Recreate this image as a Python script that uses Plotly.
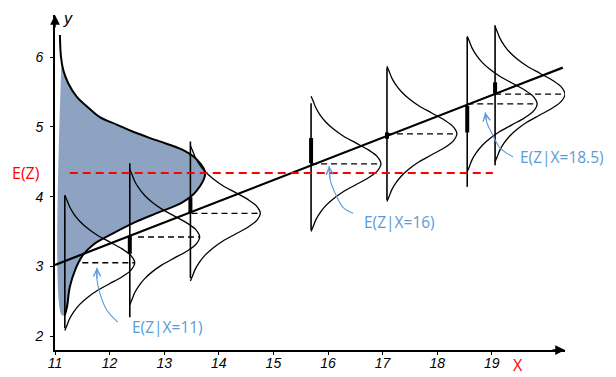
import plotly.graph_objects as go

# ---------------- data ----------------
x_ticks = [11, 12, 13, 14, 15, 16, 17, 18, 19]
y_ticks = [2, 3, 4, 5, 6]

# regression line E(Z|X)
reg_x = [11.0, 20.3]
reg_y = [3.02, 5.85]

# overall E(Z)
ez_value = 4.34
ez_x = [11.27, 19.02]

# big (marginal) density, filled
big_y = [6.32, 6.00, 5.82, 5.63, 5.43, 5.29, 5.14, 5.03, 4.93, 4.81, 4.67, 4.53,
         4.34, 4.09, 3.92, 3.78, 3.62, 3.45, 3.31, 3.16, 2.95, 2.70, 2.42, 2.30]
big_x = [11.09, 11.11, 11.15, 11.24, 11.40, 11.59, 11.82, 12.14, 12.43, 12.85, 13.34, 13.60,
         13.75, 13.60, 13.34, 12.92, 12.43, 12.01, 11.70, 11.51, 11.37, 11.27, 11.22, 11.18]
big_base = 11.12

# conditional densities
curve_base = [11.18, 12.37, 13.48, 15.69, 17.08, 18.55, 19.06]
curve_mean = [3.05, 3.42, 3.76, 4.47, 4.90, 5.33, 5.47]
curve_top = [4.02, 4.48, 4.79, 5.34, 5.85, 6.29, 6.46]
curve_bottom = [2.11, 2.27, 2.83, 3.52, 3.95, 4.14, 4.45]
curve_peak = 1.28
dash_start = [11.50, 12.52, 13.50, 15.69, 17.08, 18.55, 19.06]
bar_low = [None, 3.18, 3.77, 4.48, 4.83, 4.92, 5.48]
bar_high = [None, 3.44, 3.99, 4.84, 4.92, 5.30, 5.64]

# shape of a small density (offset from mean, relative width)
prof_dy = [-0.97, -0.9, -0.8, -0.7, -0.6, -0.5, -0.4, -0.3, -0.2, -0.1, 0.0,
           0.1, 0.2, 0.3, 0.4, 0.5, 0.6, 0.7, 0.8, 0.9, 0.97]
prof_w = [0.0, 0.03, 0.07, 0.13, 0.21, 0.32, 0.46, 0.64, 0.82, 0.95, 1.0,
          0.95, 0.82, 0.64, 0.46, 0.32, 0.21, 0.13, 0.07, 0.03, 0.0]

# callouts
labels = ["E(Z|X=11)", "E(Z|X=16)", "E(Z|X=18.5)"]
label_x = [12.37, 16.62, 19.48]
label_y = [2.13, 3.64, 4.57]
arrow_x = [[12.15, 11.95, 11.82, 11.77, 11.77],
           [16.46, 16.27, 16.13, 16.04, 16.02],
           [19.39, 19.15, 19.00, 18.91, 18.88]]
arrow_y = [[2.20, 2.37, 2.62, 2.80, 2.98],
           [3.76, 3.85, 4.05, 4.24, 4.44],
           [4.57, 4.70, 4.91, 5.06, 5.21]]

# ---------------- styles ----------------
BLUE = "#5B9BD5"
RED = "#FF0000"
FILL = "rgb(142,163,194)"
TXT = "Open Sans"

fig = go.Figure()

# filled marginal density
fill_x = big_x[1:] + [big_base, big_base]
fill_y = big_y[1:] + [big_y[-1], big_y[1]]
fig.add_trace(go.Scatter(x=fill_x, y=fill_y, mode="lines", fill="toself",
                         fillcolor=FILL, line=dict(width=0, shape="spline"),
                         hoverinfo="skip"))

# conditional densities
for i in range(len(curve_base)):
    b, m = curve_base[i], curve_mean[i]
    fig.add_trace(go.Scatter(x=[b, b], y=[curve_bottom[i], curve_top[i]], mode="lines",
                             line=dict(color="black", width=1.6)))
    fig.add_trace(go.Scatter(x=[b + curve_peak * w for w in prof_w],
                             y=[m + d for d in prof_dy], mode="lines",
                             line=dict(color="black", width=1.3, shape="spline")))
    fig.add_trace(go.Scatter(x=[dash_start[i], b + curve_peak], y=[m, m], mode="lines",
                             line=dict(color="black", width=1.4, dash="6px,4px")))
    if bar_low[i] is not None:
        fig.add_trace(go.Scatter(x=[b, b], y=[bar_low[i], bar_high[i]], mode="lines",
                                 line=dict(color="black", width=4)))

# outline of marginal density
fig.add_trace(go.Scatter(x=big_x, y=big_y, mode="lines",
                         line=dict(color="black", width=2, shape="spline")))

# regression line
fig.add_trace(go.Scatter(x=reg_x, y=reg_y, mode="lines", line=dict(color="black", width=2.2)))

# E(Z) line
fig.add_trace(go.Scatter(x=ez_x, y=[ez_value, ez_value], mode="lines",
                         line=dict(color=RED, width=2, dash="8px,5px")))

# blue callout arrows
for i in range(len(labels)):
    fig.add_trace(go.Scatter(x=arrow_x[i], y=arrow_y[i], mode="lines",
                             line=dict(color=BLUE, width=1.1, shape="spline")))
    fig.add_annotation(x=arrow_x[i][-1], y=arrow_y[i][-1], ax=arrow_x[i][-2], ay=arrow_y[i][-2],
                       xref="x", yref="y", axref="x", ayref="y", text="", showarrow=True,
                       arrowhead=5, arrowsize=1.3, arrowwidth=1.1, arrowcolor=BLUE, standoff=0)
    fig.add_annotation(x=label_x[i], y=label_y[i], text=labels[i], showarrow=False,
                       xanchor="left", yanchor="middle",
                       font=dict(family=TXT, size=15.5, color=BLUE))

# text labels
fig.add_annotation(xref="paper", yref="y", x=-0.057, y=ez_value, text="E(Z)", showarrow=False,
                   xanchor="center", yanchor="middle",
                   font=dict(family=TXT, size=16, color=RED))
fig.add_annotation(xref="paper", yref="paper", x=0.908, y=-0.045, text="X", showarrow=False,
                   xanchor="center", yanchor="middle",
                   font=dict(family=TXT, size=16, color=RED))
fig.add_annotation(x=11.24, y=6.56, text="y", showarrow=False,
                   xanchor="center", yanchor="middle",
                   font=dict(family="Liberation Sans", size=16, color="black", style="italic"))

# axis arrowheads
fig.add_annotation(xref="paper", yref="paper", x=1, y=0, ax=-14, ay=0, text="", showarrow=True,
                   arrowhead=2, arrowsize=1.3, arrowwidth=1.5, arrowcolor="black", standoff=0)
fig.add_annotation(xref="paper", yref="paper", x=0, y=1, ax=0, ay=14, text="", showarrow=True,
                   arrowhead=2, arrowsize=1.3, arrowwidth=1.5, arrowcolor="black", standoff=0)

# the page body adds an 8px offset, so the figure is 8px smaller and margins shifted
tickfont = dict(family="Liberation Sans", size=14, color="black", style="italic")
fig.update_layout(
    width=608, height=369,
    margin=dict(l=47, r=51, t=7, b=27),
    paper_bgcolor="white", plot_bgcolor="white",
    showlegend=False,
    xaxis=dict(range=[11, 11 + 510 / 54.6], tickvals=x_ticks, ticktext=[str(v) for v in x_ticks],
               showgrid=False, zeroline=False, showline=True, linecolor="black", linewidth=1.6,
               ticks="outside", ticklen=3, tickwidth=1.4, tickcolor="black",
               ticklabelstandoff=-4,
               tickfont=tickfont, automargin=False),
    yaxis=dict(range=[2 - 14 / 69.7, 2 - 14 / 69.7 + 335 / 69.7], tickvals=y_ticks,
               ticktext=[str(v) for v in y_ticks],
               showgrid=False, zeroline=False, showline=True, linecolor="black", linewidth=1.6,
               ticks="outside", ticklen=3, tickwidth=1.4, tickcolor="black",
               ticklabelstandoff=4,
               tickfont=tickfont, automargin=False),
)

fig.write_html("out.html")
